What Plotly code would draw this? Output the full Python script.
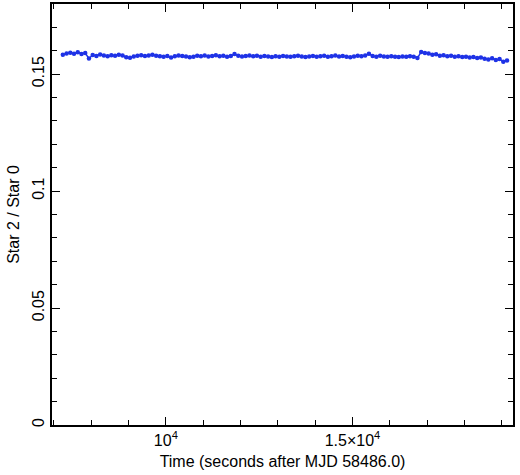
import plotly.graph_objects as go

# ratio of star 2 to star 0, one point every 100 s
t_start = 7240
cadence = 100
ratio = [
    0.1583, 0.1588, 0.1592, 0.1587, 0.1594, 0.1586, 0.1590, 0.1567, 0.1582, 0.1578,
    0.1584, 0.1580, 0.1577, 0.1581, 0.1579, 0.1583, 0.1580, 0.1572, 0.1570, 0.1576,
    0.1579, 0.1581, 0.1578, 0.1580, 0.1583, 0.1579, 0.1577, 0.1574, 0.1578, 0.1571,
    0.1577, 0.1580, 0.1578, 0.1576, 0.1572, 0.1575, 0.1579, 0.1577, 0.1580, 0.1576,
    0.1578, 0.1581, 0.1577, 0.1579, 0.1574, 0.1578, 0.1586, 0.1579, 0.1576, 0.1578,
    0.1580, 0.1577, 0.1579, 0.1575, 0.1578, 0.1576, 0.1573, 0.1577, 0.1575, 0.1578,
    0.1576, 0.1574, 0.1577, 0.1579, 0.1576, 0.1573, 0.1576, 0.1578, 0.1575, 0.1577,
    0.1579, 0.1574, 0.1577, 0.1580, 0.1576, 0.1578, 0.1574, 0.1572, 0.1576, 0.1579,
    0.1577, 0.1580, 0.1587, 0.1578, 0.1575, 0.1579, 0.1576, 0.1574, 0.1577, 0.1575,
    0.1573, 0.1576, 0.1574, 0.1577, 0.1575, 0.1569, 0.1595, 0.1591, 0.1588, 0.1583,
    0.1585, 0.1579, 0.1581, 0.1577, 0.1579, 0.1575, 0.1577, 0.1573, 0.1575, 0.1571,
    0.1573, 0.1569, 0.1571, 0.1566, 0.1563, 0.1568, 0.1561, 0.1565, 0.1553, 0.1558,
]
times = [t_start + cadence * i for i in range(len(ratio))]

x_tickvals = [10000, 15000]
x_ticktext = ["10<sup>4</sup>", "1.5×10<sup>4</sup>"]
y_tickvals = [0, 0.05, 0.1, 0.15]
y_ticktext = ["0", "0.05", "0.1", "0.15"]

blue = "#1e32e6"
font = "Liberation Sans, Arial, sans-serif"

fig = go.Figure()
fig.add_trace(go.Scatter(
    x=times, y=ratio, mode="lines+markers",
    line=dict(color=blue, width=1.5),
    marker=dict(color=blue, size=4.5, line=dict(width=0)),
    error_y=dict(type="constant", value=0.0006, color=blue, thickness=1.5, width=0),
    showlegend=False,
))

axis_common = dict(
    showline=True, linecolor="black", linewidth=1.8, mirror="ticks",
    ticks="inside", ticklen=8, tickwidth=1.2, tickcolor="black",
    showgrid=False, zeroline=False, automargin=False,
    tickfont=dict(family=font, size=16, color="black"),
)

fig.update_layout(
    width=520, height=475,
    margin=dict(l=52, r=7, t=4, b=50),
    plot_bgcolor="white", paper_bgcolor="white",
    font=dict(family=font, color="black"),
    xaxis=dict(
        range=[6950, 19300], tickvals=x_tickvals, ticktext=x_ticktext,
        minor=dict(dtick=1000, tick0=0, ticks="inside", ticklen=5, tickcolor="black", tickwidth=1),
        title=dict(text="Time (seconds after MJD 58486.0)", font=dict(size=16), standoff=8),
        **axis_common,
    ),
    yaxis=dict(
        range=[0, 0.18], tickvals=y_tickvals, ticktext=y_ticktext, tickangle=-90,
        minor=dict(dtick=0.01, tick0=0, ticks="inside", ticklen=5, tickcolor="black", tickwidth=1),
        title=dict(text="Star 2 / Star 0", font=dict(size=16), standoff=6),
        **axis_common,
    ),
)

fig.write_html("out.html", config={"displayModeBar": False},
               post_script="document.body.style.margin='0';")
